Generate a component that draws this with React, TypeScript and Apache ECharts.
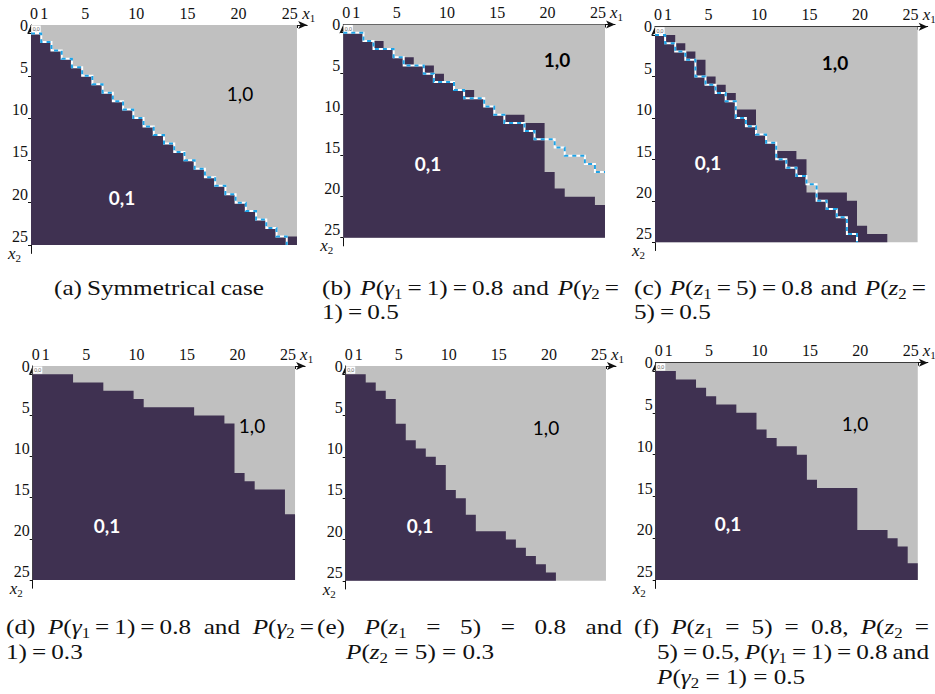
import React, { useEffect, useRef } from "react";
import * as echarts from "echarts";

// ---------- data ----------
const N = 26; // states 0..25 on each axis
const AXIS_CATS = Array.from({ length: 28 }, (_, i) => String(i));
const X_LABELS = [0, 1, 5, 10, 15, 20, 25];
const Y_LABELS = [0, 5, 10, 15, 20, 25];
const MARK_TICKS = [1, 6, 11, 16, 21, 26];

// first x2 row of the dark "0,1" region, for each column x1 = 0..25 (26 = none)
const DARK_A = [1, 2, 3, 4, 5, 6, 7, 8, 9, 10, 11, 12, 13, 14, 15, 16, 17, 18, 19, 20, 21, 22, 23, 24, 25, 25];
const DARK_B = [1, 1, 2, 2, 3, 4, 4, 5, 5, 6, 7, 8, 8, 9, 10, 11, 11, 11, 12, 12, 18, 20, 21, 21, 21, 22];
const DARK_C = [1, 1, 2, 3, 4, 6, 7, 8, 10, 10, 13, 14, 15, 15, 16, 20, 20, 20, 20, 21, 24, 25, 25, 26, 26, 26];
const DARK_D = [1, 1, 1, 1, 2, 2, 2, 3, 3, 3, 4, 5, 5, 5, 5, 5, 6, 6, 6, 7, 13, 14, 15, 15, 15, 18];
const DARK_E = [1, 1, 2, 3, 4, 7, 9, 10, 11, 12, 15, 16, 18, 20, 20, 20, 21, 22, 23, 24, 25, 26, 26, 26, 26, 26];
const DARK_F = [1, 1, 2, 2, 3, 4, 5, 5, 6, 6, 8, 9, 10, 10, 11, 14, 15, 15, 15, 15, 20, 20, 20, 21, 22, 24];

// reference boundary drawn as the blue/white dashed staircase
const DASH_A = [1, 2, 3, 4, 5, 6, 7, 8, 9, 10, 11, 12, 13, 14, 15, 16, 17, 18, 19, 20, 21, 22, 23, 24, 25, 26];
const DASH_B = [1, 1, 2, 3, 3, 4, 5, 5, 6, 7, 7, 8, 9, 9, 10, 11, 12, 12, 13, 14, 14, 15, 16, 16, 17, 18];
const DASH_C = [1, 2, 3, 4, 6, 7, 8, 9, 11, 12, 13, 14, 16, 17, 18, 19, 21, 22, 23, 25, 26, 26, 26, 26, 26, 26];

const PANELS_DARK = [DARK_A, DARK_B, DARK_C, DARK_D, DARK_E, DARK_F];
const PANELS_DASH = [DASH_A, DASH_B, DASH_C, null, null, null];

// captions ("|" = line break, "_" = subscript)
const CAPTIONS = [
  "(a) Symmetrical case",
  "(b) P(γ_1\u2009=\u20091)\u2009=\u20090.8 and P(γ_2\u2009=|1)\u2009=\u20090.5",
  "(c) P(z_1\u2009=\u20095)\u2009=\u20090.8 and P(z_2\u2009=|5)\u2009=\u20090.5",
  "(d) P(γ_1\u2009=\u20091)\u2009=\u20090.8 and P(γ_2\u2009=|1)\u2009=\u20090.3",
  "(e) P(z_1 = 5) = 0.8 and|P(z_2 = 5) = 0.3",
  "(f) P(z_1 = 5) = 0.8, P(z_2 =|5) = 0.5, P(γ_1 = 1) = 0.8 and|P(γ_2 = 1) = 0.5",
];

// ---------- layout / style ----------
const GRIDS = [
  { left: 31, top: 25, cw: 10.23, rh: 8.46 },
  { left: 343.3, top: 24.5, cw: 10.065, rh: 8.2 },
  { left: 655, top: 26.7, cw: 10.1, rh: 8.29 },
  { left: 32.7, top: 366, cw: 10.09, rh: 8.23 },
  { left: 345.7, top: 366, cw: 10.01, rh: 8.26 },
  { left: 655.7, top: 362.7, cw: 10.08, rh: 8.36 },
];
// caption line placement: [x, y, justified width or 0]
const CAPTION_LINES = [
  [[54, 288, 210]],
  [[322, 288, 297], [322, 312, 0]],
  [[634, 288, 292], [634, 312, 0]],
  [[6, 627, 308], [6, 652, 0]],
  [[317, 627, 305], [346, 652, 0]],
  [[634, 627, 295], [657, 652, 272], [657, 677, 0]],
];
// region label centres (px) and weights
const REGION_TEXT = [
  [[240, 93, "normal"], [122, 197, "bold"]],
  [[557, 59, "bold"], [428, 163, "bold"]],
  [[835, 62, "bold"], [708, 162, "bold"]],
  [[252, 425, "normal"], [107, 525, "bold"]],
  [[546, 427, "normal"], [420, 525, "bold"]],
  [[855, 423, "normal"], [728, 523, "bold"]],
];

const SERIF = "'Liberation Serif', 'Times New Roman', serif";
const SANS = "Lato, sans-serif";
const DARK = "#3f3151";
const GRAY = "#c0c0c0";
const BLUE = "#1ea2e6";
const INK = "#111";
const CAP_SIZE = 21;
const SUB_SIZE = 14;
const K = 1.2; // horizontal glyph stretch to mimic Computer Modern widths

function stairPath(levels: number[]) {
  const pts: number[][] = [];
  for (let c = 0; c < levels.length; c++) {
    const y = levels[c];
    if (y >= N) {
      pts.push([c, N]);
      break;
    }
    pts.push([c, y], [c + 1, y]);
  }
  return pts;
}

function regionPolygon(levels: number[]) {
  const pts: number[][] = [[0, N]];
  levels.forEach((lv, c) => {
    pts.push([c, lv], [c + 1, lv]);
  });
  pts.push([N, N]);
  return pts;
}

type Seg = { t: string; st: string };
function parseWord(w: string): Seg[] {
  const segs: Seg[] = [];
  for (let i = 0; i < w.length; i++) {
    let ch = w[i];
    let st = "n";
    if (ch === "_") {
      st = "s";
      ch = w[++i];
    } else if ("Pγz".includes(ch)) st = "i";
    const last = segs[segs.length - 1];
    if (last && last.st === st) last.t += ch;
    else segs.push({ t: ch, st });
  }
  return segs;
}

const CAP_RICH = {
  n: { fontFamily: SERIF, fontSize: CAP_SIZE, lineHeight: 26, fill: INK, color: INK },
  i: { fontFamily: SERIF, fontSize: CAP_SIZE, fontStyle: "italic", lineHeight: 26, fill: INK, color: INK },
  s: { fontFamily: SERIF, fontSize: SUB_SIZE, lineHeight: SUB_SIZE, verticalAlign: "bottom", fill: INK, color: INK },
};

function buildCaptions() {
  const canvas = document.createElement("canvas");
  const ctx = canvas.getContext("2d") as CanvasRenderingContext2D;
  const measure = (segs: Seg[]) =>
    segs.reduce((acc, s) => {
      ctx.font = `${s.st === "i" ? "italic " : ""}${s.st === "s" ? SUB_SIZE : CAP_SIZE}px ${SERIF}`;
      return acc + ctx.measureText(s.t).width;
    }, 0);
  ctx.font = `${CAP_SIZE}px ${SERIF}`;
  const spaceW = ctx.measureText(" ").width * K;
  const els: any[] = [];
  CAPTIONS.forEach((cap, ci) => {
    cap.split("|").forEach((line, li) => {
      const [x0, y, w] = CAPTION_LINES[ci][li];
      const words = line.split(" ").map(parseWord);
      const widths = words.map((s) => measure(s) * K);
      const total = widths.reduce((a, b) => a + b, 0);
      const gap = w && words.length > 1 ? (w - total) / (words.length - 1) : spaceW;
      let x = x0;
      words.forEach((segs, wi) => {
        els.push({
          type: "text",
          x,
          y,
          z: 100,
          scaleX: K,
          silent: true,
          style: {
            text: segs.map((s) => `{${s.st}|${s.t}}`).join(""),
            rich: CAP_RICH,
            font: `${CAP_SIZE}px ${SERIF}`,
            textAlign: "left",
            textVerticalAlign: "middle",
            fill: INK,
          },
        });
        x += widths[wi] + gap;
      });
    });
  });
  return els;
}

function buildOption() {
  const nameRich = {
    i: { fontFamily: SERIF, fontStyle: "italic", fontSize: 17, lineHeight: 20, color: INK },
    s: { fontFamily: SERIF, fontSize: 11, lineHeight: 11, verticalAlign: "bottom", color: INK },
  };
  const grid = GRIDS.map((g) => ({
    left: g.left,
    top: g.top,
    width: 27 * g.cw,
    height: 27 * g.rh,
    containLabel: false,
    outerBoundsMode: "none",
  }));
  const axisLine = {
    show: true,
    lineStyle: { color: INK, width: 1 },
    symbol: ["none", "arrow"],
    symbolSize: [6, 9],
  };
  const xAxis = GRIDS.map((g, i) => ({
    gridIndex: i,
    type: "category",
    position: "top",
    data: AXIS_CATS,
    boundaryGap: false,
    axisLine,
    axisTick: {
      show: true,
      inside: true,
      length: 3,
      interval: (idx: number) => MARK_TICKS.includes(idx),
      lineStyle: { color: INK },
    },
    axisLabel: {
      show: true,
      interval: (idx: number) => X_LABELS.includes(idx),
      margin: 4,
      fontFamily: SERIF,
      fontSize: 16,
      color: INK,
      padding: [0, 0, 0, 6],
    },
    splitLine: { show: false },
    name: "{i|x}{s|1}",
    nameLocation: "end",
    nameGap: 8,
    nameTextStyle: { align: "right", verticalAlign: "bottom", padding: [0, 0, 2, 0], rich: nameRich },
  }));
  const yAxis = GRIDS.map((g, i) => ({
    gridIndex: i,
    type: "category",
    inverse: true,
    data: AXIS_CATS,
    boundaryGap: false,
    axisLine,
    axisTick: {
      show: true,
      inside: false,
      length: 3,
      interval: (idx: number) => MARK_TICKS.includes(idx),
      lineStyle: { color: INK },
    },
    axisLabel: {
      show: true,
      interval: (idx: number) => Y_LABELS.includes(idx),
      margin: 3,
      fontFamily: SERIF,
      fontSize: 16,
      color: INK,
      padding: [g.rh, 0, 0, 0],
    },
    splitLine: { show: false },
    name: "{i|x}{s|2}",
    nameLocation: "end",
    nameGap: 0,
    nameTextStyle: { align: "right", verticalAlign: "middle", padding: [0, 10, 0, 0], rich: nameRich },
  }));

  const series: any[] = [];
  PANELS_DARK.forEach((levels, i) => {
    const poly = regionPolygon(levels);
    const dash = PANELS_DASH[i];
    const path = dash ? stairPath(dash) : null;
    series.push({
      type: "custom",
      xAxisIndex: i,
      yAxisIndex: i,
      silent: true,
      data: [[0, 0]],
      renderItem: (_p: any, api: any) => {
        const a = api.coord([0, 0]);
        const b = api.coord([N, N]);
        const c = api.coord([1, 1]);
        const children: any[] = [
          { type: "rect", shape: { x: a[0], y: a[1], width: b[0] - a[0], height: b[1] - a[1] }, style: { fill: GRAY } },
          { type: "polygon", shape: { points: poly.map((p) => api.coord(p)) }, style: { fill: DARK } },
          { type: "rect", shape: { x: a[0] + 0.5, y: a[1] + 0.5, width: c[0] - a[0] - 1, height: c[1] - a[1] - 1 }, style: { fill: "#fff" } },
          {
            type: "text",
            style: {
              text: "0,0",
              x: (a[0] + c[0]) / 2,
              y: (a[1] + c[1]) / 2,
              textAlign: "center",
              textVerticalAlign: "middle",
              font: `5px ${SANS}`,
              fill: "#555",
            },
          },
        ];
        if (path) {
          const pts = path.map((p) => api.coord(p));
          children.push(
            { type: "polyline", shape: { points: pts }, style: { stroke: "#ffffff", lineWidth: 2, fill: null } },
            { type: "polyline", shape: { points: pts }, style: { stroke: BLUE, lineWidth: 2, fill: null, lineDash: [4, 4] } }
          );
        }
        return { type: "group", children };
      },
    });
  });

  const graphic: any[] = [];
  REGION_TEXT.forEach((pair) => {
    pair.forEach(([x, y, wt], k) => {
      graphic.push({
        type: "text",
        x,
        y,
        z: 100,
        silent: true,
        style: {
          text: k === 0 ? "1,0" : "0,1",
          textAlign: "center",
          textVerticalAlign: "middle",
          font: `${wt} 19px ${SANS}`,
          fill: k === 0 ? "#000" : "#fff",
        },
      });
    });
  });
  graphic.push(...buildCaptions());

  return { animation: false, backgroundColor: "#fff", grid, xAxis, yAxis, series, graphic };
}

export default function App() {
  const ref = useRef<HTMLDivElement>(null);
  useEffect(() => {
    if (!ref.current) return;
    const chart = echarts.init(ref.current, null, { renderer: "svg", width: 935, height: 694 });
    chart.setOption(buildOption() as any);
    return () => chart.dispose();
  }, []);
  return (
    <div
      ref={ref}
      style={{ position: "absolute", left: 0, top: 0, width: 935, height: 694, background: "#fff" }}
    />
  );
}
